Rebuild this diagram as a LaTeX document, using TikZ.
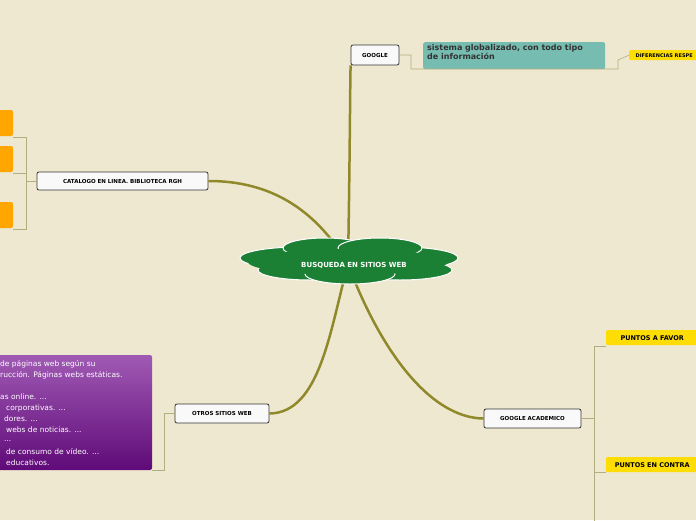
\documentclass[tikz,border=0pt]{standalone}
\usepackage{fontspec}
\setmainfont{DejaVu Sans}
\begin{document}
\begin{tikzpicture}[x=1pt,y=-1pt,
  box/.style={draw=black!80,fill=white!95!gray,rounded corners=2pt,line width=0.8pt,font=\bfseries\fontsize{5.5}{6}\selectfont,inner sep=0pt},
  branch/.style={draw=olive!70!gray,line width=2.5pt},
  thin/.style={draw=olive!40!gray!70,line width=0.6pt},
  yel/.style={fill=yellow!80!orange,font=\bfseries\fontsize{6.5}{7}\selectfont,inner sep=3pt,anchor=north west,rounded corners=1pt},
  purp/.style={font=\fontsize{7.5}{8}\selectfont,text=white,anchor=west,inner sep=0pt}]
\useasboundingbox (0,0) rectangle (696,520);
\clip (0,0) rectangle (696,520);
\fill[fill={rgb,255:red,239;green,232;blue,208}] (0,0) rectangle (696,520);
% coordinates
\coordinate (c) at (348,264);
\node[box,minimum width=48pt,minimum height=20pt] (g) at (375,55) {GOOGLE};
\node[box,minimum width=171pt,minimum height=18pt] (cat) at (122.5,181) {CATALOGO EN LINEA. BIBLIOTECA RGH};
\node[box,minimum width=94pt,minimum height=19pt] (o) at (222,413.5) {OTROS SITIOS WEB};
\node[box,minimum width=97pt,minimum height=19pt] (ga) at (532.5,418.5) {GOOGLE ACADEMICO};
% branches
\draw[branch] (c) .. controls (350,150) and (350,90) .. (g.south west);
\draw[branch] (c) .. controls (310,200) and (260,181) .. (cat.east);
\draw[branch] (c) .. controls (330,330) and (320,413) .. (o.east);
\draw[branch] (c) .. controls (380,350) and (430,418) .. (ga.west);
% central cloud
\begin{scope}[fill={rgb,255:red,28;green,128;blue,52},draw=white,line width=1pt]
\filldraw (300,258) ellipse (60 and 11);
\filldraw (400,258) ellipse (58 and 11);
\filldraw (310,270) ellipse (52 and 10);
\filldraw (400,270) ellipse (52 and 10);
\filldraw (325,248) ellipse (42 and 10);
\filldraw (380,248) ellipse (42 and 10);
\filldraw (350,274) ellipse (45 and 10);
\fill (348,262) ellipse (100 and 13);
\end{scope}
\node[text=white,font=\bfseries\fontsize{7}{8}\selectfont] (cn) at (354,265) {BUSQUEDA EN SITIOS WEB};
% google children
\node[fill={rgb,255:red,118;green,188;blue,176},rounded corners=2pt,minimum width=182pt,minimum height=27pt,anchor=north west,inner sep=0pt] (t) at (423,42) {};
\node[font=\bfseries\fontsize{8}{9}\selectfont,text=black!80,anchor=north west,align=left,inner sep=0pt] (tt) at (427,44) {sistema globalizado, con todo tipo\\de información};
\node[yel,font=\bfseries\fontsize{5}{6}\selectfont,inner sep=2pt,minimum width=70pt,minimum height=10pt,align=left] (d) at (629,50) {DIFERENCIAS RESPE};
\draw[thin] (g.east) -- (411,55) -- (411,69) -- (618,69) -- (618,60) -- (d.west);
% catalogo children
\fill[orange!70!yellow,rounded corners=2pt] (-5,110) rectangle (13,136);
\fill[orange!70!yellow,rounded corners=2pt] (-5,146) rectangle (13,172);
\fill[orange!70!yellow,rounded corners=2pt] (-5,202) rectangle (13,228);
\coordinate (k) at (26,181);
\draw[thin] (cat.west) -- (k);
\draw[thin] (13,137) -- (26,137) -- (26,229) -- (13,229);
\draw[thin] (13,173) -- (26,173);
% purple
\shade[top color={rgb,255:red,160;green,90;blue,180},bottom color={rgb,255:red,95;green,10;blue,120},rounded corners=2pt] (-5,355) rectangle (152,470);
\node[purp] (p1) at (0,364) {de páginas web según su};
\node[purp] (p2) at (0,375) {rucción. Páginas webs estáticas.};
\node[purp] (p3) at (0,397) {as online. ...};
\node[purp] (p4) at (6,408) {corporativas. ...};
\node[purp] (p5) at (4,419) {dores. ...};
\node[purp] (p6) at (6,430) {webs de noticias. ...};
\node[purp] (p7) at (4,441) {...};
\node[purp] (p8) at (6,452) {de consumo de vídeo. ...};
\node[purp] (p9) at (6,463) {educativos.};
\draw[thin] (o.west) -- (164,413.5) -- (164,470) -- (152,470);
% academico children
\node[yel,minimum width=92pt,minimum height=15pt,inner sep=3pt] (pf) at (606,330) {PUNTOS A FAVOR};
\node[yel,minimum width=92pt,minimum height=15pt,inner sep=3pt] (pc) at (606,457) {PUNTOS EN CONTRA};
\draw[thin] (ga.east) -- (594,418.5);
\draw[thin] (606,346) -- (594,346) -- (594,525);
\draw[thin] (594,472) -- (606,472);
\end{tikzpicture}
\end{document}
